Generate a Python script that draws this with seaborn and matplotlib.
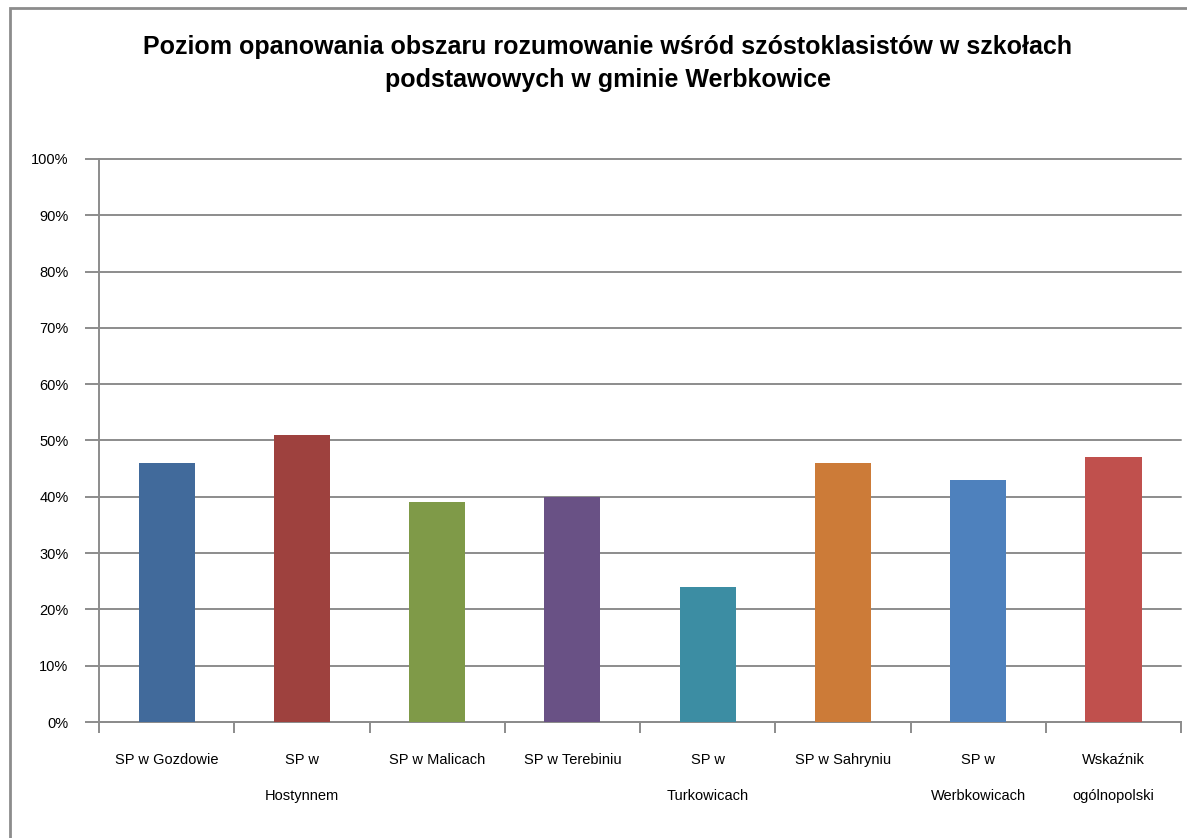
# Poziom opanowania obszaru rozumowanie - gmina Werbkowice
import numpy as np
import pandas as pd
import seaborn as sns
import matplotlib.pyplot as plt
from matplotlib.patches import Rectangle
from matplotlib.ticker import PercentFormatter

plt.switch_backend('Agg')

# data
schools = ["SP w Gozdowie", "SP w\nHostynnem", "SP w Malicach", "SP w Terebiniu",
           "SP w\nTurkowicach", "SP w Sahryniu", "SP w\nWerbkowicach", "Wskaźnik\nogólnopolski"]
values = [46, 51, 39, 40, 24, 46, 43, 47]
colors = ["#416A9B", "#9E413E", "#7F9A48", "#695185",
          "#3C8DA3", "#CC7B38", "#4E81BD", "#C0504D"]
y_ticks = list(range(0, 101, 10))

title = ("Poziom opanowania obszaru rozumowanie wśród szóstoklasistów w szkołach\n"
         "podstawowych w gminie Werbkowice")

df = pd.DataFrame({"szkola": schools, "wynik": values})

sns.set_style("white")
plt.rcParams['font.family'] = ['Liberation Sans', 'DejaVu Sans']
plt.rcParams['text.color'] = 'black'
plt.rcParams['xtick.labelcolor'] = 'black'
plt.rcParams['ytick.labelcolor'] = 'black'

fig = plt.figure(figsize=(11.87, 8.38), dpi=100)
ax = fig.add_axes([0.0834, 0.1384, 0.9116, 0.6719])

sns.barplot(data=df, x="szkola", y="wynik", hue="szkola", palette=colors,
            order=schools, width=0.415, saturation=1, legend=False, ax=ax,
            linewidth=0, zorder=3)

grid_c = "#8C8C8C"
ax.set_ylim(0, 100)
ax.set_xlim(-0.5, len(schools) - 0.5)
ax.set_yticks(y_ticks)
ax.yaxis.set_major_formatter(PercentFormatter(decimals=0))
ax.grid(axis="y", color=grid_c, linewidth=1.4, zorder=0)
ax.set_axisbelow(True)
for gl in ax.get_ygridlines():
    gl.set_clip_on(False)

for side in ["top", "right"]:
    ax.spines[side].set_visible(False)
for side in ["left", "bottom"]:
    ax.spines[side].set_color(grid_c)
    ax.spines[side].set_linewidth(1.4)

ax.tick_params(axis="y", which="major", length=10, width=1.4, color=grid_c,
               direction="out", pad=12, labelsize=10.5, left=True)
ax.set_xticks(np.arange(len(schools)))
ax.set_xticklabels(schools, linespacing=3.0, fontsize=10.5)
ax.tick_params(axis="x", which="major", length=0, pad=22)
ax.set_xticks(np.arange(-0.5, len(schools)), minor=True)
ax.tick_params(axis="x", which="minor", length=8, width=1.4, color=grid_c,
               direction="out", bottom=True)
for lbl in ax.get_xticklabels():
    lbl.set_verticalalignment("top")

ax.set_xlabel("")
ax.set_ylabel("")

fig.text(0.512, 0.924, title, ha="center", va="center", fontsize=18,
         fontweight="bold", linespacing=1.5, color="black")

# grey frame around the chart area
fig.patches.append(Rectangle((10 / 1187, -0.05), 1.2, 1 - 8 / 838 + 0.05,
                             transform=fig.transFigure, fill=False,
                             edgecolor="#8C8C8C", linewidth=2))

fig.savefig("out.png", dpi=100)
plt.close(fig)
